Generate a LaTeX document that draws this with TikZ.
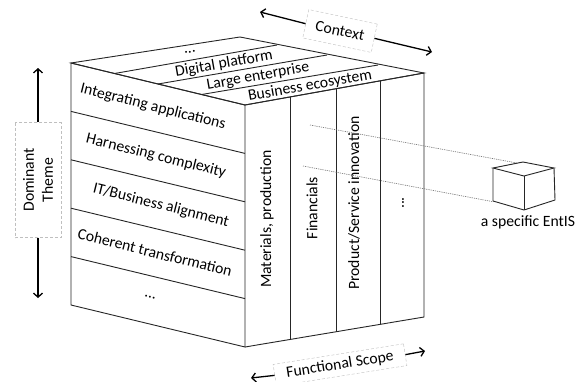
\documentclass[tikz,border=0pt]{standalone}
\usepackage{fontspec}
\setmainfont{Carlito}
\usetikzlibrary{arrows.meta}
\begin{document}
\begin{tikzpicture}[x=1pt,y=-1pt,
  edge/.style={draw=black!85, line width=0.9pt},
  lbl/.style={font=\fontsize{15.7}{19}\selectfont, inner sep=0pt, text=black},
  tag/.style={lbl, draw=black!25, densely dashed, line width=0.4pt},
  dotline/.style={draw=black!55, dash pattern=on 1.2pt off 1pt, line width=0.6pt},
  axis/.style={draw=black, line width=1.3pt, -{Straight Barb[length=4pt,width=9pt]}}]
\useasboundingbox (0,0) rectangle (586,381);
\fill[white] (0,0) rectangle (586,381);
% cube corners
\coordinate (A) at (71,63);
\coordinate (B) at (245,105);
\coordinate (C) at (424,73);
\coordinate (D) at (240,37);
\coordinate (Ab) at (71,305);
\coordinate (Bb) at (245,347);
\coordinate (Cb) at (424,317);
% faces
\draw[edge] (A) -- (D) -- (C) -- (B) -- cycle;
\draw[edge] (A) -- (B) -- (Bb) -- (Ab) -- cycle;
\draw[edge] (B) -- (C) -- (Cb) -- (Bb);
% left face bands
\foreach \k in {1,...,4}
  \draw[edge] (71,{63+48.4*\k}) -- (245,{105+48.4*\k});
% top face stripes
\draw[edge] (114.5,73.5) -- (277,45);
\draw[edge] (158,84) -- (327,55);
\draw[edge] (201.5,94.5) -- (378,65);
% right face columns
\draw[edge] (290,97) -- (290,339.5);
\draw[edge] (336,88.7) -- (336,331.7);
\draw[edge] (380,80.9) -- (380,324.4);
% left face labels
\node[lbl, rotate=-14] (t1) at (153,107) {Integrating applications};
\node[lbl, rotate=-14] (t2) at (156,156) {Harnessing complexity};
\node[lbl, rotate=-14] (t3) at (161,205.5) {IT/Business alignment};
\node[lbl, rotate=-14] (t4) at (155,252.5) {Coherent transformation};
\node[lbl, rotate=-14] (t5) at (150,297) {...};
% top face labels
\node[lbl, rotate=10] (c0) at (190,52) {...};
\node[lbl, rotate=10] (c1) at (224,64) {Digital platform};
\node[lbl, rotate=10] (c2) at (258,76.5) {Large enterprise};
\node[lbl, rotate=10] (c3) at (310,86) {Business ecosystem};
% right face labels
\node[lbl, rotate=90] (f1) at (267,219) {Materials, production};
\node[lbl, rotate=90] (f2) at (312,208) {Financials};
\node[lbl, rotate=90] (f3) at (354,203) {Product/Service innovation};
\node[lbl, rotate=90] (f4) at (403,203) {...};
% small cube
\coordinate (sLT) at (493,168);
\coordinate (sBT) at (523,162);
\coordinate (sRT) at (554,168);
\coordinate (sFT) at (524,176);
\coordinate (sLB) at (493,201);
\coordinate (sFB) at (524,210);
\coordinate (sRB) at (555,200);
\draw[edge] (sLT) -- (sBT) -- (sRT) -- (sFT) -- cycle;
\draw[edge] (sLT) -- (sLB) -- (sFB) -- (sRB) -- (sRT);
\draw[edge] (sFT) -- (sFB);
\node[lbl] (ent) at (528,222) {a specific EntIS};
% projection lines
\coordinate (p1) at (310,125);
\coordinate (p2) at (517,163);
\coordinate (p3) at (303,166);
\coordinate (p4) at (492,201.5);
\draw[dotline] (p1) -- (p2);
\draw[dotline] (p3) -- (p4);
% Dominant Theme
\node[tag, rotate=90, minimum width=115pt, minimum height=46pt, align=center] (dt) at (38,180) {Dominant\\Theme};
\coordinate (dtT) at (38,68);
\coordinate (dtB) at (38,298);
\draw[axis] (dt.east) -- (dtT);
\draw[axis] (dt.west) -- (dtB);
% Context
\node[tag, rotate=-12, minimum width=70pt, minimum height=29pt] (ctx) at (340,31) {Context};
\coordinate (ctxL) at (260,12);
\coordinate (ctxR) at (432,52);
\draw[axis] (ctx.west) -- (ctxL);
\draw[axis] (ctx.east) -- (ctxR);
% Functional Scope
\node[tag, rotate=9, minimum width=132pt, minimum height=22pt] (fs) at (340,365) {Functional Scope};
\coordinate (fsL) at (251,378);
\coordinate (fsR) at (425,351);
\draw[axis] (fs.west) -- (fsL);
\draw[axis] (fs.east) -- (fsR);
\end{tikzpicture}
\end{document}
